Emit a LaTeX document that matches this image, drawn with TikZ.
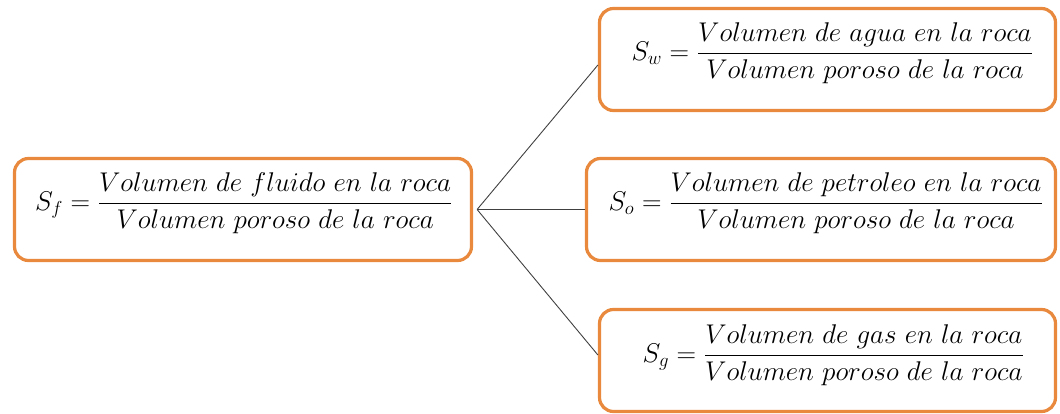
\documentclass[tikz,border=0pt]{standalone}
\usepackage{amsmath}
\begin{document}
\begin{tikzpicture}[x=1pt,y=-1pt,
  eqbox/.style={draw=boxorange, line width=3.2pt, rounded corners=14pt, fill=white,
    inner sep=0pt, minimum height=102},
  eqtext/.style={inner sep=0pt, font=\fontsize{20.74}{25}\selectfont},
  link/.style={draw=black!75, line width=0.9pt}]
\definecolor{boxorange}{HTML}{E8893E}
\newcommand{\eqsc}[1]{\scalebox{1.305}{#1}}
\useasboundingbox (0,0) rectangle (1060,414);
\node[eqbox, minimum width=457] (sf) at (243,209.5) {};
\node[eqbox, minimum width=456] (sw) at (827.5,59.5) {};
\node[eqbox, minimum width=469] (so) at (821,209.5) {};
\node[eqbox, minimum width=456] (sg) at (827.5,360.5) {};
\node[eqtext] (sft) at ([xshift=1pt,yshift=6pt]sf.center)
  {\eqsc{$S_f=\dfrac{Volumen\ de\ fluido\ en\ la\ roca}{Volumen\ poroso\ de\ la\ roca}$}};
\node[eqtext] (swt) at ([xshift=5pt,yshift=6pt]sw.center)
  {\eqsc{$S_w=\dfrac{Volumen\ de\ agua\ en\ la\ roca}{Volumen\ poroso\ de\ la\ roca}$}};
\node[eqtext] (sot) at ([xshift=5pt,yshift=6pt]so.center)
  {\eqsc{$S_o=\dfrac{Volumen\ de\ petroleo\ en\ la\ roca}{Volumen\ poroso\ de\ la\ roca}$}};
\node[eqtext] (sgt) at ([xshift=6pt,yshift=5pt]sg.center)
  {\eqsc{$S_g=\dfrac{Volumen\ de\ gas\ en\ la\ roca}{Volumen\ poroso\ de\ la\ roca}$}};
\coordinate (hub) at ([xshift=4pt]sf.east);
\draw[link] (hub) -- ([yshift=-5.5pt]sw.west);
\draw[link] (hub) -- (so.west);
\draw[link] (hub) -- ([yshift=5.5pt]sg.west);
\end{tikzpicture}
\end{document}
